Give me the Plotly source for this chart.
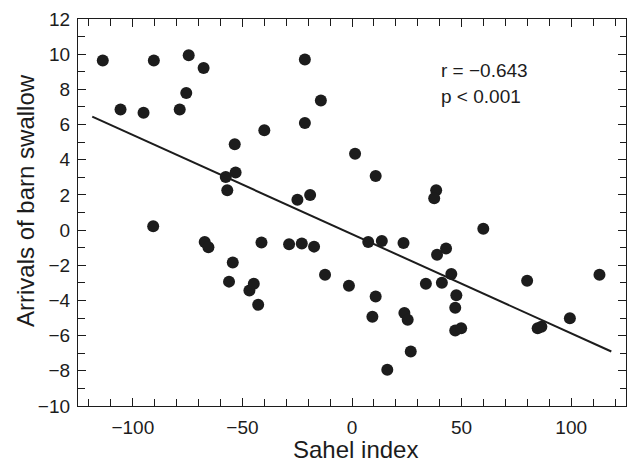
import plotly.graph_objects as go

# Sahel index (x) and arrival anomaly of barn swallow (y)
sahel = [-113.7, -105.6, -95.1, -90.4, -74.5, -75.6, -78.6, -67.7, -53.5, -53.1,
         -57.6, -56.9, -40.0, -21.5, -21.5, -14.2, -24.9, -19.1, -90.7, -67.2,
         -65.5, -54.4, -56.1, -46.8, -44.8, -42.8, -41.3, -28.7, -22.9, -17.3,
         -12.3, 1.4, 10.8, 38.4, 37.5, 59.9, 7.4, 13.6, 23.5, -1.4,
         10.8, 9.3, 23.9, 25.4, 26.8, 16.1, 33.7, 38.8, 42.9, 41.0,
         45.3, 47.6, 47.1, 47.1, 49.8, 79.9, 84.7, 86.4, 99.4, 112.9]
arrivals = [9.64, 6.86, 6.67, 9.64, 9.94, 7.79, 6.86, 9.22, 4.88, 3.27,
            3.02, 2.27, 5.67, 9.70, 6.09, 7.37, 1.72, 1.99, 0.22, -0.68,
            -0.98, -1.84, -2.93, -3.44, -3.05, -4.25, -0.70, -0.81, -0.76, -0.94,
            -2.54, 4.34, 3.08, 2.27, 1.81, 0.07, -0.68, -0.62, -0.74, -3.16,
            -3.78, -4.92, -4.71, -5.10, -6.90, -7.94, -3.05, -1.40, -1.04, -2.99,
            -2.50, -3.71, -4.42, -5.71, -5.58, -2.88, -5.58, -5.49, -5.01, -2.54]

# regression line end points
fit_x = [-118.5, 118.3]
fit_y = [6.45, -6.90]

stats_text = ["r = \u22120.643", "p < 0.001"]
stats_x = [39.5, 39.5]
stats_y = [9.09, 7.62]

x_range = [-125, 125]
y_range = [-10, 12]
x_ticks = [-100, -50, 0, 50, 100]
y_ticks = [-10, -8, -6, -4, -2, 0, 2, 4, 6, 8, 10, 12]

def lab(v):
    return ("\u2212" + str(abs(v))) if v < 0 else str(v)

INK = "#1c1c1c"
FONT = "Liberation Sans, Arial, Helvetica, sans-serif"

fig = go.Figure()
# regression line drawn on the mirrored (top/right) axes, which share the same ranges
fig.add_trace(go.Scatter(x=fit_x, y=fit_y, mode="lines", xaxis="x2", yaxis="y2",
                         line=dict(color=INK, width=2), hoverinfo="skip"))
fig.add_trace(go.Scatter(x=sahel, y=arrivals, mode="markers",
                         marker=dict(color=INK, size=12, line=dict(width=0))))

tick_common = dict(showgrid=False, zeroline=False, ticks="inside", tickcolor=INK,
                   tickwidth=1.3, ticklen=8, automargin=False,
                   tickfont=dict(family=FONT, size=19, color=INK))
xminor = dict(dtick=10, tick0=0, ticks="inside", ticklen=6.5, tickcolor=INK,
              tickwidth=1.3, showgrid=False)
yminor = dict(dtick=1, tick0=0, ticks="inside", ticklen=6.5, tickcolor=INK,
              tickwidth=1.3, showgrid=False)

fig.update_layout(
    xaxis=dict(range=x_range, tickvals=x_ticks, ticktext=[lab(v) for v in x_ticks],
               minor=xminor, ticklabelstandoff=4, showline=True, linecolor=INK,
               linewidth=1.3, mirror=True, **tick_common),
    yaxis=dict(range=y_range, tickvals=y_ticks, ticktext=[lab(v) for v in y_ticks],
               minor=yminor, ticklabelstandoff=3, showline=True, linecolor=INK,
               linewidth=1.3, mirror=True, **tick_common),
    xaxis2=dict(range=x_range, tickvals=x_ticks, minor=xminor, side="top",
                overlaying="x", anchor="y2", showticklabels=False, showline=False,
                **tick_common),
    yaxis2=dict(range=y_range, tickvals=y_ticks, minor=yminor, side="right",
                overlaying="y", anchor="x2", showticklabels=False, showline=False,
                **tick_common),
)

annotations = []
for t, xx, yy in zip(stats_text, stats_x, stats_y):
    annotations.append(dict(x=xx, y=yy, xref="x", yref="y", text=t, showarrow=False,
                            xanchor="left", yanchor="middle",
                            font=dict(family=FONT, size=19, color=INK)))
annotations.append(dict(x=(355 - 78) / 548, y=(406 - 449) / 387, xref="paper", yref="paper",
                        text="Sahel index", showarrow=False, xanchor="center", yanchor="middle",
                        font=dict(family=FONT, size=24, color=INK)))
annotations.append(dict(x=(25 - 78) / 548, y=(406 - 201) / 387, xref="paper", yref="paper",
                        text="Arrivals of barn swallow", showarrow=False, textangle=-90,
                        xanchor="center", yanchor="middle",
                        font=dict(family=FONT, size=24, color=INK)))

fig.update_layout(width=627, height=460, margin=dict(l=78, r=1, t=19, b=54, autoexpand=False),
                  plot_bgcolor="white", paper_bgcolor="white", showlegend=False,
                  annotations=annotations, font=dict(family=FONT, color=INK))

fig.write_html("out.html", config={"displayModeBar": False},
               post_script="document.body.style.margin='0';document.body.style.overflow='hidden';")
